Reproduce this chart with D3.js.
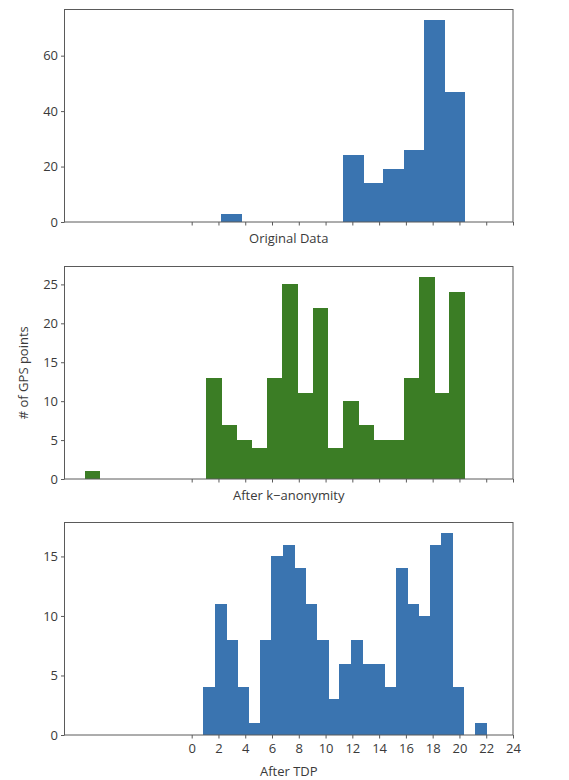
<!DOCTYPE html>
<html>
<head>
<meta charset="utf-8">
<script src="https://cdn.jsdelivr.net/npm/d3@7"></script>
<style>
  html, body { margin: 0; padding: 0; background: #fff; }
  svg text { font-family: "Open Sans", "DejaVu Sans", sans-serif; fill: #3a3a3a; }
</style>
</head>
<body>
<script>
// ---- data (histogram counts) ----
const origRange = [2.17, 20.38];
const origCounts = [3, 0, 0, 0, 0, 0, 24, 14, 19, 26, 73, 47];

const kanonRange = [-8.0, 20.38];
const kanonCounts = [1, 0, 0, 0, 0, 0, 0, 0, 13, 7, 5, 4, 13, 25, 11, 22, 4, 10, 7, 5, 5, 13, 26, 11, 24];

const tdpRange = [0.87, 22.02];
const tdpCounts = [4, 11, 8, 4, 1, 8, 15, 16, 14, 11, 8, 3, 6, 8, 6, 6, 4, 14, 11, 10, 16, 17, 4, 0, 1];

const xTicks = [0, 2, 4, 6, 8, 10, 12, 14, 16, 18, 20, 22, 24];
const origYTicks = [0, 20, 40, 60];
const kanonYTicks = [0, 5, 10, 15, 20, 25];
const tdpYTicks = [0, 5, 10, 15];

const panels = [
  { range: origRange, counts: origCounts, yTicks: origYTicks, color: "#3a74b0", label: "Original Data", top: 9.5, showX: false },
  { range: kanonRange, counts: kanonCounts, yTicks: kanonYTicks, color: "#3b7d25", label: "After k\u2212anonymity", top: 266.5, showX: false },
  { range: tdpRange, counts: tdpCounts, yTicks: tdpYTicks, color: "#3a74b0", label: "After TDP", top: 522.5, showX: true }
];

const W = 569, H = 780;
const left = 64.5, right = 513, ph = 212.5;

const svg = d3.select("body").append("svg").attr("width", W).attr("height", H);

const x = d3.scaleLinear().domain([-9.5, 24]).range([left, right]);

panels.forEach(p => {
  const n = p.counts.length;
  const w = (p.range[1] - p.range[0]) / n;
  const bins = p.counts.map((c, i) => ({ x0: p.range[0] + i * w, x1: p.range[0] + (i + 1) * w, c }));
  const ymax = d3.max(p.counts) * 1.05;
  const y = d3.scaleLinear().domain([0, ymax]).range([p.top + ph, p.top]);
  const g = svg.append("g");

  g.selectAll("rect").data(bins.filter(b => b.c > 0)).join("rect")
    .attr("x", b => x(b.x0))
    .attr("width", b => x(b.x1) - x(b.x0) + 0.6)
    .attr("y", b => y(b.c))
    .attr("height", b => y(0) - y(b.c))
    .attr("fill", p.color)
    .attr("shape-rendering", "crispEdges");

  // frame
  g.append("rect")
    .attr("x", left).attr("y", p.top)
    .attr("width", right - left).attr("height", ph)
    .attr("fill", "none").attr("stroke", "#5a5a5a").attr("stroke-width", 1);

  // y axis
  const ya = g.append("g").attr("transform", `translate(${left},0)`)
    .call(d3.axisLeft(y).tickValues(p.yTicks).tickSize(3.5).tickPadding(3).tickFormat(d3.format("d")));
  ya.select(".domain").remove();
  ya.selectAll("line").attr("stroke", "#5a5a5a");
  ya.selectAll("text").attr("font-size", 13).attr("fill", "#3a3a3a");

  // x axis
  const xa = g.append("g").attr("transform", `translate(0,${p.top + ph})`)
    .call(d3.axisBottom(x).tickValues(xTicks).tickSize(3.5).tickPadding(5)
      .tickFormat(p.showX ? d3.format("d") : () => ""));
  xa.select(".domain").remove();
  xa.selectAll("line").attr("stroke", "#5a5a5a");
  xa.selectAll("text").attr("font-size", 13).attr("fill", "#3a3a3a");

  g.append("text")
    .attr("x", (left + right) / 2)
    .attr("y", p.showX ? p.top + ph + 41 : p.top + ph + 21)
    .attr("text-anchor", "middle")
    .attr("font-size", 13)
    .text(p.label);
});

svg.append("text")
  .attr("transform", `translate(28,${266.5 + ph / 2}) rotate(-90)`)
  .attr("text-anchor", "middle")
  .attr("font-size", 13)
  .text("# of GPS points");
</script>
</body>
</html>
